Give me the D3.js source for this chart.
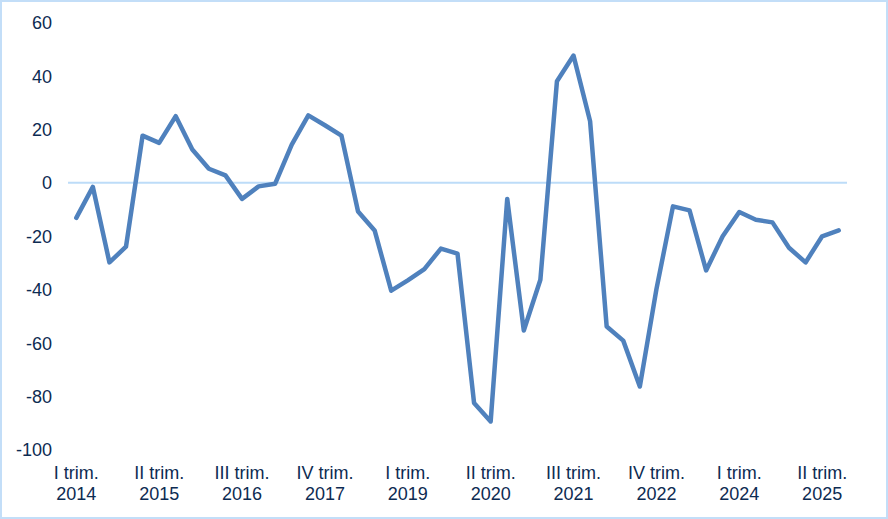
<!DOCTYPE html>
<html>
<head>
<meta charset="utf-8">
<script src="https://cdn.jsdelivr.net/npm/d3@7"></script>
<style>
html,body{margin:0;padding:0;background:#fff;}
svg{display:block;}
text{font-family:"Liberation Sans",Arial,sans-serif;}
</style>
</head>
<body>
<svg id="chart" width="888" height="519"></svg>
<script>
const quarters = ["I","II","III","IV"];
const startYear = 2014;
const values = [
  -13.2, -1.6, -29.9, -24, 17.6, 14.9, 24.9, 12.4, 5.2, 2.7,
  -6.1, -1.4, -0.4, 14.2, 25.2, 21.5, 17.6, -10.8, -17.9, -40.5,
  -36.6, -32.4, -24.7, -26.6, -82.6, -89.5, -6.1, -55.4, -36.4, 38,
  47.6, 23, -53.9, -59.2, -76.4, -40, -8.9, -10.4, -32.9, -20.1,
  -11, -13.9, -14.9, -24.4, -29.9, -20.1, -17.9
];
const yTicks = [60, 40, 20, 0, -20, -40, -60, -80, -100];
const labelEvery = 5;

const categories = values.map((v, i) => quarters[i % 4] + " trim.|" + (startYear + Math.floor(i / 4)));

const svg = d3.select("#chart");
const W = 888, H = 519;

// outer border
svg.append("rect").attr("x", 1).attr("y", 1).attr("width", W - 2).attr("height", H - 2)
  .attr("fill", "#fff").attr("stroke", "#c3def8").attr("stroke-width", 2);

const x = d3.scaleBand().domain(categories).range([68, 847]).paddingInner(0).paddingOuter(0);
const y = d3.scaleLinear().domain([-100, 60]).range([449.5, 22.5]);
const cx = c => x(c) + x.bandwidth() / 2;

// y-axis labels
const yAxis = d3.axisLeft(y).tickValues(yTicks).tickSize(0).tickPadding(0).tickFormat(d => String(d));
const gy = svg.append("g").attr("transform", "translate(52,0)").call(yAxis);
gy.select(".domain").remove();
gy.selectAll("text").attr("fill", "#0d2b52").attr("font-size", "18px")
  .attr("font-family", "'Liberation Sans',Arial,sans-serif").attr("dy", "0.35em");

// zero line
svg.append("line").attr("x1", 68).attr("x2", 847).attr("y1", y(0)).attr("y2", y(0))
  .attr("stroke", "#bddcf8").attr("stroke-width", 2);

// x labels
const xAxis = d3.axisBottom(x).tickValues(categories.filter((c, i) => i % labelEvery === 0)).tickSize(0).tickFormat(() => "");
const gx = svg.append("g").attr("transform", "translate(0,455)").call(xAxis);
gx.select(".domain").remove();
gx.selectAll(".tick").each(function(d) {
  const parts = d.split("|");
  const t = d3.select(this).select("text").text(null)
    .attr("fill", "#0d2b52").attr("font-size", "18px")
    .attr("font-family", "'Liberation Sans',Arial,sans-serif").attr("y", 0).attr("dy", null);
  t.append("tspan").attr("x", 0).attr("y", 24).text(parts[0]);
  t.append("tspan").attr("x", 0).attr("y", 45).text(parts[1]);
});

// line
const line = d3.line().x((d, i) => cx(categories[i])).y(d => y(d));
svg.append("path").datum(values).attr("d", line)
  .attr("fill", "none").attr("stroke", "#4f81bd").attr("stroke-width", 4.5)
  .attr("stroke-linejoin", "round").attr("stroke-linecap", "round");
</script>
</body>
</html>
